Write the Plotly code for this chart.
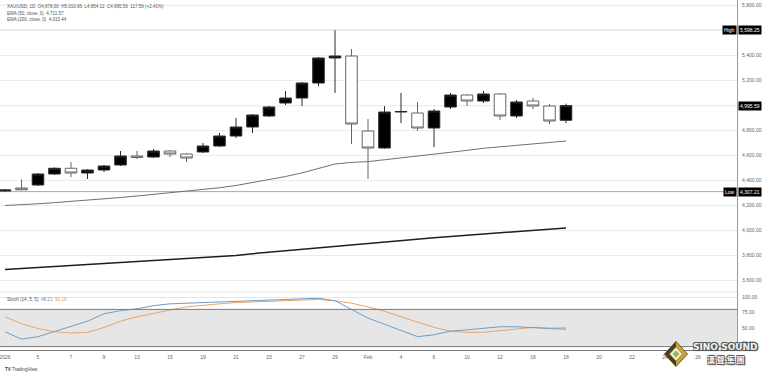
import plotly.graph_objects as go

# ---------------- data ----------------
dates = ["2026-01-01", "2026-01-02", "2026-01-05", "2026-01-06", "2026-01-07", "2026-01-08", "2026-01-09",
         "2026-01-12", "2026-01-13", "2026-01-14", "2026-01-15", "2026-01-16",
         "2026-01-19", "2026-01-20", "2026-01-21", "2026-01-22", "2026-01-23",
         "2026-01-26", "2026-01-27", "2026-01-28", "2026-01-29", "2026-01-30",
         "2026-02-02", "2026-02-03", "2026-02-04", "2026-02-05", "2026-02-06",
         "2026-02-09", "2026-02-10", "2026-02-11", "2026-02-12", "2026-02-13",
         "2026-02-16", "2026-02-17", "2026-02-18"]

opens = [4312, 4336, 4360, 4448, 4494, 4456, 4480, 4520, 4592, 4584, 4632, 4608, 4624, 4672, 4752,
         4824, 4912, 5016, 5056, 5176, 5376, 5392, 4792, 4656, 4944, 4936, 4816, 4984, 5080, 5032,
         5088, 4912, 5032, 4992, 4878.00]
highs = [4326, 4405, 4456, 4500, 4544, 4485, 4520, 4632, 4632, 4648, 4640, 4616, 4696, 4776, 4896,
         4928, 4992, 5112, 5184, 5384, 5598.25, 5448, 4888, 4992, 5096, 5024, 4968, 5096, 5088, 5112,
         5096, 5040, 5056, 5008, 5010.96]
lows = [4307.21, 4318, 4352, 4440, 4424, 4408, 4464, 4512, 4568, 4576, 4584, 4544, 4616, 4664, 4736,
        4776, 4904, 5000, 4992, 5152, 5096, 4688, 4408, 4650, 4856, 4792, 4664, 4968, 4992, 5016,
        4880, 4896, 4968, 4848, 4854.12]
closes = [4320, 4322, 4448, 4494, 4456, 4480, 4512, 4592, 4580, 4632, 4608, 4576, 4672, 4752, 4824,
          4920, 4984, 5056, 5176, 5376, 5392, 4848, 4656, 4944, 4948, 4816, 4952, 5080, 5032, 5088,
          4912, 5024, 4992, 4872, 4995.59]

ema50 = [4196, 4201, 4210, 4219, 4228, 4237, 4247, 4260, 4272, 4285, 4297, 4309, 4322, 4338, 4356,
         4378, 4402, 4428, 4457, 4492, 4528, 4541, 4547, 4562, 4577, 4588, 4603, 4621, 4637, 4654,
         4665, 4680, 4692, 4700, 4711.57]
ema200 = [3685, 3693, 3700, 3708, 3716, 3723, 3731, 3739, 3746, 3754, 3762, 3770, 3777, 3785, 3797,
          3810, 3822, 3835, 3847, 3860, 3872, 3883, 3895, 3907, 3918, 3930, 3939, 3949, 3958, 3968,
          3977, 3986, 3996, 4005, 4015.44]

stoch_k = [44, 32, 36, 44, 53, 61, 73, 78, 81, 86, 89, 90, 92, 92, 93, 95, 96, 96, 97, 98, 94, 80,
           66, 56, 46, 36, 39, 45, 47, 50, 52, 52, 50, 49, 48.21]
stoch_d = [68, 57, 49, 44, 42, 43, 51, 61, 68, 74, 79, 84, 87, 89, 91, 92, 93, 94, 95, 96, 94, 90,
           84, 77, 68, 59, 51, 45, 43, 43, 46, 49, 51, 50, 50.19]

date_tick_pos = [0, 2, 4, 6, 8, 10, 12, 14, 16, 18, 20, 22, 24, 26, 28, 30, 32, 34, 36, 38, 40, 42]
date_tick_labels = ["2026", "5", "7", "9", "13", "15", "19", "21", "23", "27", "29", "Feb",
                    "4", "6", "10", "12", "16", "18", "20", "22", "24", "26"]

price_ticks = [3600, 3800, 4000, 4200, 4400, 4600, 4800, 5000, 5200, 5400, 5600, 5800]
price_tick_labels = ["3,600.00", "3,800.00", "4,000.00", "4,200.00", "4,400.00", "4,600.00",
                     "4,800.00", "", "5,200.00", "5,400.00", "", "5,800.00"]
stoch_ticks = [25, 50, 75, 100]
stoch_tick_labels = ["25.00", "50.00", "75.00", "100.00"]
stoch_band = [20, 80]

legend_lines = [
    "XAU/USD, 1D  O4,878.00  H5,010.96  L4,854.12  C4,995.59  117.59 (+2.41%)",
    "EMA (50, close, 0)  4,711.57",
    "EMA (200, close, 0)  4,015.44",
]

# ---------------- figure ----------------
W, H = 764, 375
R = 27
PW = W - R
xs = list(range(len(dates)))


def px(x):
    return x / PW


def py(y):
    return 1 - y / H


font_family = "Liberation Sans, Arial, sans-serif"
fig = go.Figure()

fig.add_trace(go.Scatter(x=xs, y=ema200, mode="lines", line=dict(color="#1e1e1e", width=1.5),
                         xaxis="x", yaxis="y", hoverinfo="skip", showlegend=False))
fig.add_trace(go.Scatter(x=xs, y=ema50, mode="lines", line=dict(color="#707070", width=1),
                         xaxis="x", yaxis="y", hoverinfo="skip", showlegend=False))
fig.add_trace(go.Candlestick(
    x=xs, open=opens, high=highs, low=lows, close=closes, text=dates,
    increasing=dict(line=dict(color="#2a2a2a", width=1), fillcolor="#000000"),
    decreasing=dict(line=dict(color="#666666", width=1), fillcolor="#ffffff"),
    whiskerwidth=0, xaxis="x", yaxis="y", showlegend=False))

fig.add_trace(go.Scatter(x=xs, y=stoch_d, mode="lines", line=dict(color="#e8a46c", width=1),
                         xaxis="x2", yaxis="y2", hoverinfo="skip", showlegend=False))
fig.add_trace(go.Scatter(x=xs, y=stoch_k, mode="lines", line=dict(color="#6f9ec6", width=1),
                         xaxis="x2", yaxis="y2", hoverinfo="skip", showlegend=False))

main_top, main_bot = 0, 290
st_top, st_bot = 290, 350
xr = [-5 / 16.5, -5 / 16.5 + PW / 16.5]

shapes = []
# stochastic band
shapes.append(dict(type="rect", xref="x2 domain", yref="y2", x0=0, x1=1,
                   y0=stoch_band[0], y1=stoch_band[1], fillcolor="#e6e6e6",
                   line=dict(width=0), layer="below"))
for v in stoch_band:
    shapes.append(dict(type="line", xref="x2 domain", yref="y2", x0=0, x1=1, y0=v, y1=v,
                       line=dict(color="#7a7a7a", width=1), layer="above"))
# price lines: high, last, low
for v in [max(highs), closes[-1], min(lows)]:
    shapes.append(dict(type="line", xref="x domain", yref="y", x0=0, x1=1, y0=v, y1=v,
                       line=dict(color="#a8a8a8", width=1), layer="below"))
# panel separator
shapes.append(dict(type="line", xref="paper", yref="paper", x0=0, x1=1, y0=py(st_top + 2),
                   y1=py(st_top + 2), line=dict(color="#e3e3e3", width=1)))

# watermark diamond (SINO SOUND)
cx, cy, hw, hh = 676, 354, 11.5, 12.5


def diamond(cx, cy, hw, hh):
    return (f"M {px(cx)} {py(cy - hh)} L {px(cx + hw)} {py(cy)} L {px(cx)} {py(cy + hh)} "
            f"L {px(cx - hw)} {py(cy)} Z")


shapes.append(dict(type="path", xref="paper", yref="paper", path=diamond(cx, cy, hw, hh),
                   fillcolor="#c9a43a", line=dict(color="#6b5a1e", width=1)))
shapes.append(dict(type="path", xref="paper", yref="paper",
                   path=(f"M {px(cx)} {py(cy - hh)} L {px(cx - hw)} {py(cy)} L {px(cx)} {py(cy + hh)} Z"),
                   fillcolor="#4a4020", line=dict(width=0)))
shapes.append(dict(type="path", xref="paper", yref="paper", path=diamond(cx, cy, 6.5, 7),
                   fillcolor="#f4f1e0", line=dict(color="#8a7a30", width=0.8)))
shapes.append(dict(type="path", xref="paper", yref="paper", path=diamond(cx, cy, 3.5, 3.8),
                   fillcolor="#9cb84a", line=dict(width=0)))

annotations = []
for i, t in enumerate(legend_lines):
    annotations.append(dict(xref="paper", yref="paper", x=px(5), y=py(6.8 + 6.5 * i), text=t,
                            showarrow=False, xanchor="left", yanchor="middle",
                            font=dict(size=4.5, color="#555555", family=font_family)))
annotations.append(dict(xref="paper", yref="paper", x=px(5), y=py(299.5),
                        text=("Stoch (14, 5, 5)  <span style='color:#5b93c4'>%.2f</span>  "
                              "<span style='color:#e39a55'>%.2f</span>") % (stoch_k[-1], stoch_d[-1]),
                        showarrow=False, xanchor="left", yanchor="middle",
                        font=dict(size=4.6, color="#555555", family=font_family)))

# price boxes
box_font = dict(size=5, color="#ffffff", family=font_family)
for label, v in [("High", max(highs)), (None, closes[-1]), ("Low", min(lows))]:
    annotations.append(dict(xref="paper", yref="y", x=px(738), y=v, text=f"{v:,.2f}",
                            showarrow=False, xanchor="left", yanchor="middle",
                            bgcolor="#000000", borderpad=1, font=box_font))
    if label:
        annotations.append(dict(xref="paper", yref="y", x=px(736.5), y=v, text=label,
                                showarrow=False, xanchor="right", yanchor="middle",
                                bgcolor="#000000", borderpad=1, font=box_font))

# TradingView mark
annotations.append(dict(xref="paper", yref="paper", x=px(3), y=py(369.5),
                        text="<b>TV</b> TradingView", showarrow=False, xanchor="left",
                        yanchor="middle", font=dict(size=4.6, color="#444444", family=font_family)))
# SINO SOUND text (outlined)
outline = ("-0.8px -0.8px 0 #555, 0.8px -0.8px 0 #555, -0.8px 0.8px 0 #555, "
           "0.8px 0.8px 0 #555, 1.2px 1.2px 1px #333")
annotations.append(dict(xref="paper", yref="paper", x=px(725), y=py(346.5),
                        text="<b>SINO SOUND</b>", showarrow=False, xanchor="center",
                        yanchor="middle", font=dict(size=9, color="#f4f4f4", shadow=outline,
                                                    family="DejaVu Sans, sans-serif")))
annotations.append(dict(xref="paper", yref="paper", x=px(725), y=py(359),
                        text="<b>漢 聲 集 團</b>", showarrow=False, xanchor="center",
                        yanchor="middle", font=dict(size=8, color="#f4f4f4", shadow=outline,
                                                    family="Noto Sans CJK TC, sans-serif")))

axis_font = dict(size=5, color="#666666", family=font_family)
fig.update_layout(
    width=W, height=H, margin=dict(l=0, r=R, t=0, b=0),
    paper_bgcolor="#ffffff", plot_bgcolor="#ffffff",
    hovermode=False, showlegend=False,
    boxgap=0.3, boxgroupgap=0,
    xaxis=dict(domain=[0, 1], range=xr, anchor="y", showticklabels=False, showgrid=False,
               zeroline=False, rangeslider=dict(visible=False), fixedrange=True),
    yaxis=dict(domain=[py(main_bot), py(main_top)], range=[3520, 5840], side="right",
               tickvals=price_ticks, ticktext=price_tick_labels, tickfont=axis_font,
               gridcolor="#ececec", gridwidth=1, zeroline=False, showline=True,
               linecolor="#9a9a9a", linewidth=1, ticks="", ticklabelstandoff=3, anchor="x"),
    xaxis2=dict(domain=[0, 1], range=xr, anchor="y2", matches="x", tickvals=date_tick_pos,
                ticktext=date_tick_labels, tickfont=axis_font, showgrid=False, zeroline=False,
                showline=True, linecolor="#7a7a7a", ticks="", ticklabelstandoff=2,
                ticklabeloverflow="allow"),
    yaxis2=dict(domain=[py(st_bot), py(st_top)], range=[14.5, 111.3], side="right",
                tickvals=stoch_ticks, ticktext=stoch_tick_labels, tickfont=axis_font,
                gridcolor="#e6e6e6", zeroline=False, showline=True, linecolor="#9a9a9a",
                ticks="", ticklabelstandoff=3, anchor="x2"),
    shapes=shapes, annotations=annotations,
)

fig.write_html("out.html", config={"displayModeBar": False},
               post_script="document.body.style.margin='0px';document.body.style.overflow='hidden';")
